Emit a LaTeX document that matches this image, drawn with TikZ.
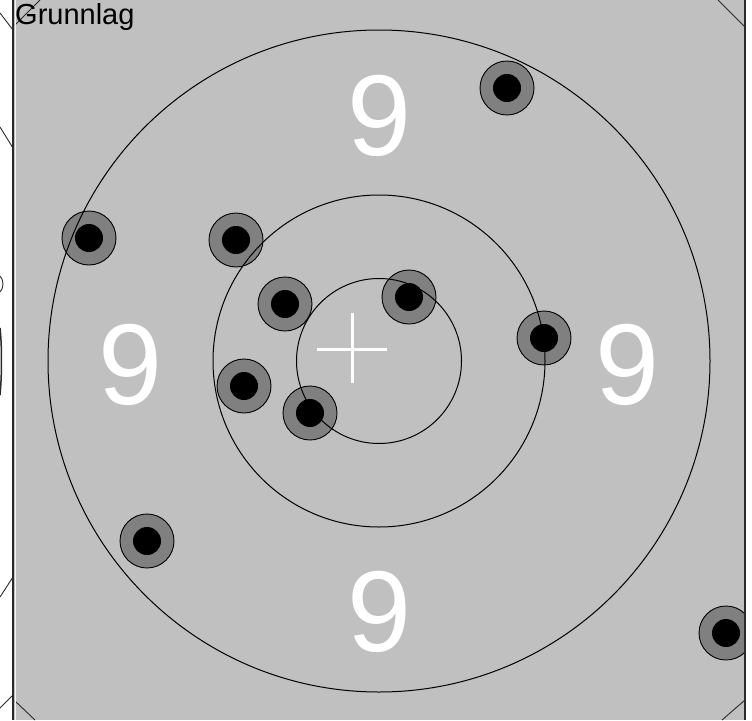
\documentclass[tikz,border=0pt]{standalone}
\usepackage{fontspec}
\setmainfont{Liberation Sans}
\definecolor{cardgrey}{HTML}{C0C0C0}
\definecolor{shotgrey}{HTML}{808080}
\definecolor{edgegrey}{HTML}{2A2A2A}

\begin{document}
\begin{tikzpicture}[x=1pt, y=-1pt,
    ring/.style={draw=black, line width=1pt},
    shotrim/.style={draw=black, fill=shotgrey, line width=0.9pt},
    ringlabel/.style={text=white, inner sep=0pt, font=\fontsize{115}{115}\selectfont},
    fragment/.style={draw=edgegrey, line width=0.9pt}]
  \useasboundingbox (0,0) rectangle (752,720);
  % Card
  \fill[cardgrey] (14,0) rectangle (745,720);
  \begin{scope}
    \clip (14,0) rectangle (745,720);
    % Shots: grey rim, black core
    \foreach \x/\y in {507/88, 89/238, 236/240, 285/304, 409/297,
                       544/338, 244/386, 310/413, 147/541, 726/633} {
      \draw[shotrim] (\x,\y) circle (27pt);
      \fill[black] (\x,\y) circle (14pt);
    }
    % Rings
    \foreach \r in {331, 166, 82.5}
      \draw[ring] (379,361) circle (\r pt);
    % Corner cuts
    \draw[fragment] (15,25) -- (40,0);
    \draw[fragment] (718,0) -- (745,27);
    \draw[fragment] (745,700) -- (722,720);
    \draw[fragment] (15,701) -- (35,720);
  \end{scope}
  % Aiming cross
  \draw[white, line width=3pt] (317,349) -- (387,349) (352,313) -- (352,383);
  % Ring values
  \node[ringlabel] (nineTop) at (379,116) {9};
  \node[ringlabel] (nineLeft) at (130,365) {9};
  \node[ringlabel] (nineRight) at (627,365) {9};
  \node[ringlabel] (nineBottom) at (379,612) {9};
  % Card edges
  \draw[edgegrey, line width=2pt] (13.2,0) -- (13.2,720);
  \draw[white!85!cardgrey, line width=0.8pt] (15.1,0) -- (15.1,720);
  \draw[edgegrey, line width=2pt] (744.8,0) -- (744.8,720);
  % Neighbouring card, outside
  \draw[fragment] (0,13) -- (13,30);
  \draw[fragment] (0,127) -- (13,148);
  \draw[fragment] (0,597) -- (13,577);
  \draw[fragment] (0,708) -- (13,695);
  \draw[fragment] (0,276) .. controls (4,280) and (4,288) .. (0,292);
  \draw[edgegrey, line width=1.5pt] (0,328) .. controls (2,345) and (2,375) .. (0,395);
  % Title
  \node[anchor=base west, inner sep=0pt, font=\fontsize{29}{29}\selectfont] (title) at (15,24) {Grunnlag};
\end{tikzpicture}
\end{document}
